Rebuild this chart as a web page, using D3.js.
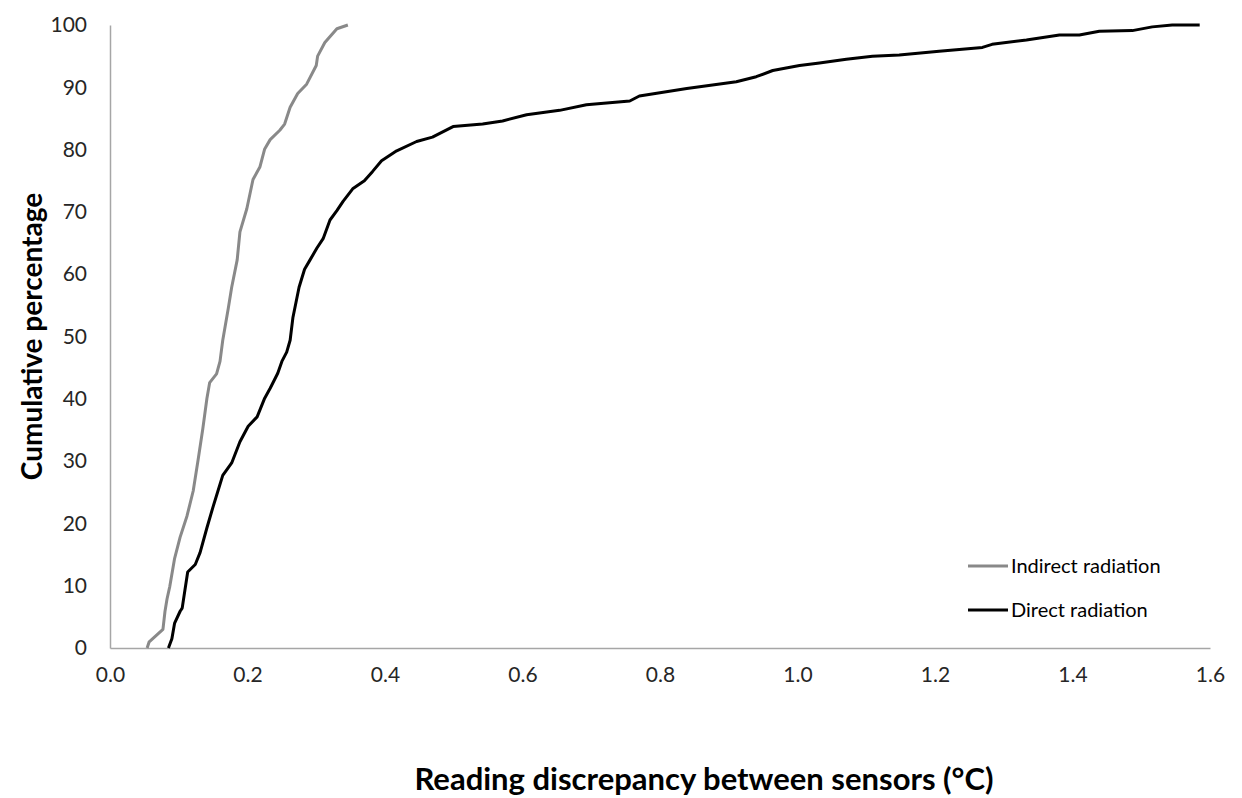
<!DOCTYPE html>
<html>
<head>
<meta charset="utf-8">
<script src="https://cdn.jsdelivr.net/npm/d3@7"></script>
<style>
  body { margin: 0; background: #fff; }
  svg text { font-family: Lato, "Open Sans", sans-serif; }
</style>
</head>
<body>
<div id="chart"></div>
<script>
// data: [discrepancy (°C), cumulative %]
const indirectData = [
  [0.054, 0], [0.057, 1], [0.065, 1.8], [0.077, 3], [0.080, 5.9], [0.083, 7.9],
  [0.087, 9.9], [0.094, 14.4], [0.102, 17.8], [0.112, 21.2], [0.121, 25.2],
  [0.128, 30.1], [0.135, 35.2], [0.141, 40.1], [0.145, 42.6], [0.155, 44],
  [0.160, 46], [0.164, 49.4], [0.172, 54.5], [0.177, 57.9], [0.185, 62.3],
  [0.189, 66.8], [0.199, 70.5], [0.208, 75.2], [0.218, 77.2], [0.225, 80.1],
  [0.233, 81.6], [0.247, 83.1], [0.254, 84.1], [0.262, 86.8], [0.273, 89],
  [0.286, 90.5], [0.300, 93.5], [0.302, 95], [0.3125, 97.2], [0.330, 99.4], [0.346, 100]
];
const directData = [
  [0.085, 0], [0.090, 1.5], [0.094, 4], [0.102, 5.9], [0.105, 6.4], [0.109, 9.3],
  [0.113, 12.2], [0.124, 13.4], [0.131, 15.3], [0.141, 19.3], [0.150, 22.7],
  [0.157, 25.2], [0.164, 27.7], [0.177, 29.7], [0.189, 33.1], [0.201, 35.6],
  [0.214, 37.1], [0.225, 40.1], [0.233, 41.7], [0.244, 44.1], [0.250, 46],
  [0.257, 47.5], [0.262, 49.4], [0.266, 53], [0.275, 57.9], [0.283, 60.8],
  [0.291, 62.3], [0.301, 64.2], [0.310, 65.7], [0.320, 68.7], [0.330, 70.2],
  [0.339, 71.7], [0.353, 73.7], [0.370, 75], [0.382, 76.5], [0.395, 78.2],
  [0.417, 79.8], [0.446, 81.3], [0.469, 82], [0.499, 83.7], [0.542, 84.1],
  [0.571, 84.6], [0.606, 85.6], [0.654, 86.3], [0.693, 87.2], [0.756, 87.8],
  [0.770, 88.6], [0.839, 89.8], [0.911, 90.9], [0.940, 91.7], [0.964, 92.7],
  [1.003, 93.5], [1.032, 93.9], [1.071, 94.5], [1.109, 95.0], [1.148, 95.2],
  [1.206, 95.8], [1.269, 96.4], [1.283, 96.9], [1.333, 97.6], [1.381, 98.4],
  [1.410, 98.4], [1.439, 99], [1.487, 99.1], [1.516, 99.7], [1.545, 100], [1.585, 100]
];
const xTicks = [0, 0.2, 0.4, 0.6, 0.8, 1.0, 1.2, 1.4, 1.6];
const yTicks = [0, 10, 20, 30, 40, 50, 60, 70, 80, 90, 100];
const seriesNames = ['Indirect radiation', 'Direct radiation'];
const seriesColors = ['#898989', '#000000'];
const xTitle = 'Reading discrepancy between sensors (°C)';
const yTitle = 'Cumulative percentage';

// size and margins ----------------------------------------------------------
const width = 1242;
const height = 798;
const margin = { top: 25, right: 32, bottom: 150, left: 110 };

const svg = d3.select('#chart').append('svg')
  .attr('width', width)
  .attr('height', height);

// scales ----------------------------------------------------------------------
const xScale = d3.scaleLinear()
  .domain([0, 1.6])
  .range([margin.left, width - margin.right]);
const yScale = d3.scaleLinear()
  .domain([0, 100])
  .range([height - margin.bottom, margin.top]);

// x axis
const xAxis = svg.append('g')
  .attr('transform', 'translate(0,' + (height - margin.bottom) + ')')
  .call(d3.axisBottom(xScale).tickValues(xTicks).tickFormat(d3.format('.1f')).tickSize(0).tickPadding(19));
xAxis.select('.domain').attr('stroke', '#a6a6a6').attr('stroke-width', 1.5);
xAxis.selectAll('text').attr('font-size', '21px').attr('fill', '#262626');

// y axis
const yAxis = svg.append('g')
  .attr('transform', 'translate(' + margin.left + ',0)')
  .call(d3.axisLeft(yScale).tickValues(yTicks).tickSize(0).tickPadding(23));
yAxis.select('.domain').attr('stroke', '#a6a6a6').attr('stroke-width', 1.5);
yAxis.selectAll('text').attr('font-size', '21px').attr('fill', '#262626');

// lines -----------------------------------------------------------------------
const line = d3.line()
  .x(d => xScale(d[0]))
  .y(d => yScale(d[1]));

[indirectData, directData].forEach((data, i) => {
  svg.append('path')
    .datum(data)
    .attr('fill', 'none')
    .attr('stroke', seriesColors[i])
    .attr('stroke-width', 3)
    .attr('stroke-linejoin', 'round')
    .attr('d', line);
});

// legend ------------------------------------------------------------------------
const legend = svg.append('g')
  .attr('transform', 'translate(968,566)');
seriesNames.forEach((name, i) => {
  legend.append('line')
    .attr('x1', 0).attr('x2', 40)
    .attr('y1', i * 44).attr('y2', i * 44)
    .attr('stroke', seriesColors[i])
    .attr('stroke-width', 3);
  legend.append('text')
    .attr('x', 43)
    .attr('y', i * 44)
    .attr('dy', '0.35em')
    .attr('font-size', '20px')
    .attr('fill', '#000')
    .text(name);
});

// axis titles -----------------------------------------------------------------
svg.append('text')
  .attr('x', 704)
  .attr('y', 790)
  .attr('text-anchor', 'middle')
  .attr('font-size', '31px')
  .attr('font-weight', 'bold')
  .text(xTitle);

svg.append('text')
  .attr('transform', 'translate(32,' + ((margin.top + height - margin.bottom) / 2) + ') rotate(-90)')
  .attr('text-anchor', 'middle')
  .attr('dy', '0.35em')
  .attr('font-size', '28px')
  .attr('font-weight', 'bold')
  .text(yTitle);
</script>
</body>
</html>
